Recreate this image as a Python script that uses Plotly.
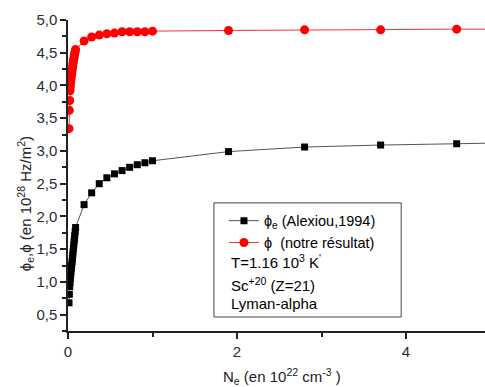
import plotly.graph_objects as go

# Electron density N_e (10^22 cm^-3)
ne = [0.012, 0.016, 0.020, 0.024, 0.028, 0.032, 0.036, 0.040, 0.044, 0.048,
      0.052, 0.056, 0.060, 0.064, 0.068, 0.072, 0.076, 0.080, 0.085, 0.090,
      0.19, 0.28, 0.37, 0.46, 0.55, 0.64, 0.73, 0.82, 0.91, 1.0,
      1.9, 2.8, 3.7, 4.6, 5.5]

# phi_e (Alexiou, 1994)
phi_alexiou = [0.68, 0.81, 0.93, 0.99, 1.05, 1.11, 1.16, 1.21, 1.26, 1.31,
               1.36, 1.41, 1.46, 1.51, 1.56, 1.61, 1.66, 1.71, 1.77, 1.83,
               2.18, 2.36, 2.50, 2.59, 2.65, 2.70, 2.75, 2.79, 2.82, 2.85,
               2.99, 3.06, 3.09, 3.11, 3.13]

# phi (notre résultat)
phi_notre = [3.34, 3.62, 3.77, 3.92, 3.98, 4.04, 4.09, 4.14, 4.18, 4.22,
             4.26, 4.30, 4.34, 4.37, 4.40, 4.43, 4.46, 4.49, 4.52, 4.55,
             4.68, 4.74, 4.77, 4.79, 4.80, 4.82, 4.82, 4.82, 4.82, 4.83,
             4.84, 4.85, 4.85, 4.86, 4.86]

FONT = "Liberation Sans, Arial, sans-serif"

fig = go.Figure()
fig.add_trace(go.Scatter(
    x=ne, y=phi_alexiou, mode="lines+markers",
    name="ϕ<sub>e</sub> (Alexiou,1994)",
    line=dict(color="#555555", width=1),
    marker=dict(symbol="square", size=7, color="black"),
))
fig.add_trace(go.Scatter(
    x=ne, y=phi_notre, mode="lines+markers",
    name="ϕ  (notre résultat)",
    line=dict(color="#ff3030", width=1),
    marker=dict(symbol="circle", size=9, color="#ff0000"),
))

# legend box geometry (paper coords)
box_x0, box_x1, box_y0, box_y1 = 0.350, 0.799, 0.045, 0.412

fig.update_layout(
    width=485, height=387,
    margin=dict(l=68, r=0, t=20, b=56),
    plot_bgcolor="white", paper_bgcolor="white",
    separators=",.",
    font=dict(family=FONT, size=15, color="#222222"),
    showlegend=True,
    legend=dict(x=0.374, y=0.406, xanchor="left", yanchor="top",
                bgcolor="rgba(0,0,0,0)", borderwidth=0,
                font=dict(family=FONT, size=14.5, color="black"),
                tracegroupgap=0),
    xaxis=dict(range=[0, 4.935], tickvals=[0, 2, 4], ticktext=["0", "2", "4"],
               ticks="outside", ticklen=6, tickwidth=1.5, tickcolor="#222",
               showline=True, linecolor="#222", linewidth=1.5,
               showgrid=False, zeroline=False,
               minor=dict(tickvals=[1, 3], ticks="outside", ticklen=4,
                          tickwidth=1.5, tickcolor="#222"),
               tickfont=dict(family=FONT, size=15, color="#2a2a3a")),
    yaxis=dict(range=[0.25, 5.0], dtick=0.5, tick0=0.5, tickformat=".1f",
               ticks="outside", ticklen=6, tickwidth=1.5, tickcolor="#222",
               showline=True, linecolor="#222", linewidth=1.5,
               showgrid=False, zeroline=False,
               minor=dict(dtick=0.25, ticks="outside", ticklen=4,
                          tickwidth=1.5, tickcolor="#222"),
               tickfont=dict(family=FONT, size=15, color="#2a2a3a")),
)

fig.add_shape(type="rect", xref="paper", yref="paper",
              x0=box_x0, x1=box_x1, y0=box_y0, y1=box_y1,
              line=dict(color="#444444", width=1), fillcolor="rgba(0,0,0,0)")

notes = [("T=1.16 10<sup>3</sup> K<sup>'</sup>", 0.222),
         ("Sc<sup>+20</sup> (Z=21)", 0.150),
         ("Lyman-alpha", 0.090)]
for txt, yy in notes:
    fig.add_annotation(text=txt, xref="paper", yref="paper", x=0.386, y=yy,
                       xanchor="left", yanchor="middle", showarrow=False,
                       font=dict(family=FONT, size=15, color="black"))

fig.add_annotation(text="N<sub>e</sub> (en 10<sup>22</sup> cm<sup>-3</sup> )",
                   xref="paper", yref="paper", x=0.513, y=-0.145,
                   xanchor="center", yanchor="middle", showarrow=False,
                   font=dict(family=FONT, size=15, color="#222"))
fig.add_annotation(text="ϕ<sub>e</sub>,ϕ (en 10<sup>28</sup> Hz/m<sup>2</sup>)",
                   xref="paper", yref="paper", x=-0.103, y=0.408,
                   xanchor="center", yanchor="middle", showarrow=False,
                   textangle=-90,
                   font=dict(family=FONT, size=15, color="#222"))

fig.write_html("out.html")
